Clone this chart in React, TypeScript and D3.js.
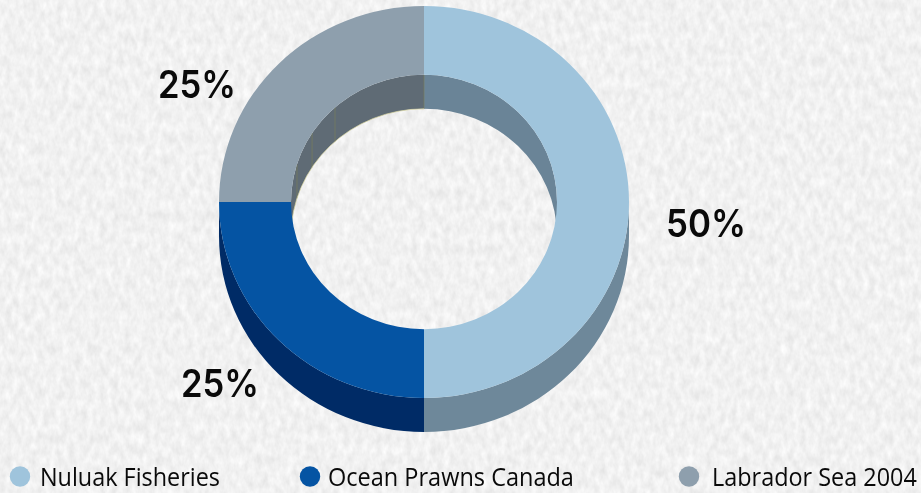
import React, { useLayoutEffect, useRef } from "react";
import * as d3 from "d3";

const categories = ["Nuluak Fisheries", "Ocean Prawns Canada", "Labrador Sea 2004"];
const shares = [50, 25, 25];
const faceColors = ["#9FC4DC", "#0554A3", "#8E9FAD"];
const outerWallColors = ["#6E889A", "#002B66", "#5F6B75"];
const innerWallColors = ["#6A8497", "#002B66", "#5F6B75"];
const shareLabels = ["50%", "25%", "25%"];
const labelAnchors = [
  [706, 237],
  [220, 397],
  [197, 98],
];
const labelWidths = [80, 78, 78];
const legendMarkers = [20, 310, 689];
const legendTextX = [40, 328, 712];
const legendTextWidth = [180, 246, 205];

const WIDTH = 921;
const HEIGHT = 493;
const CX = 424;
const CY = 202;
const R_OUTER = 205;
const R_INNER = 133;
const Y_SQUASH = 196 / 205;
const DEPTH = 34;
const TAU = Math.PI * 2;
const LEGEND_BASELINE = 485.5;

const pie = d3.pie<number>().sort(null).startAngle(0).endAngle(TAU);
const slices = pie(shares);
const faceArc = d3.arc<d3.PieArcDatum<number>>().innerRadius(R_INNER).outerRadius(R_OUTER);

// Point on the tilted ellipse, angle measured clockwise from twelve o'clock.
const onEllipse = (r: number, a: number, dy = 0): [number, number] => [
  CX + r * Math.sin(a),
  CY + dy - r * Y_SQUASH * Math.cos(a),
];

// Band between an elliptical arc on the top face and the same arc dropped by DEPTH.
function wallPath(r: number, a0: number, a1: number): string {
  const ry = r * Y_SQUASH;
  const [x0, y0] = onEllipse(r, a0);
  const [x1, y1] = onEllipse(r, a1);
  const [x2, y2] = onEllipse(r, a1, DEPTH);
  const [x3, y3] = onEllipse(r, a0, DEPTH);
  return (
    `M${x0},${y0}A${r},${ry} 0 0 1 ${x1},${y1}` +
    `L${x2},${y2}A${r},${ry} 0 0 0 ${x3},${y3}Z`
  );
}

// The rim of the hole along the lower edge of the far wall.
function rimPath(a0: number, a1: number): string {
  const [x0, y0] = onEllipse(R_INNER, a0, DEPTH);
  const [x1, y1] = onEllipse(R_INNER, a1, DEPTH);
  return `M${x0},${y0}A${R_INNER},${R_INNER * Y_SQUASH} 0 0 1 ${x1},${y1}`;
}

const clampedSpan = (s: d3.PieArcDatum<number>, lo: number, hi: number) => {
  const a0 = Math.max(s.startAngle, lo);
  const a1 = Math.min(s.endAngle, hi);
  return a1 > a0 ? [a0, a1] : null;
};

// Thin seams on the far inner wall, given as angles on the hole's rim.
const wallSeams = [0, -0.733, -1.0, -1.27];

export default function App() {
  const legendRefs = useRef<(SVGTextElement | null)[]>([]);

  // Condense each legend entry horizontally so it spans its slot.
  useLayoutEffect(() => {
    legendRefs.current.forEach((el, i) => {
      if (!el) return;
      const natural = el.getComputedTextLength();
      const sx = legendTextWidth[i] / natural;
      el.setAttribute("transform", `translate(${legendTextX[i]},${LEGEND_BASELINE}) scale(${sx},1)`);
    });
  }, []);

  return (
    <svg
      width={WIDTH}
      height={HEIGHT}
      viewBox={`0 0 ${WIDTH} ${HEIGHT}`}
      style={{ position: "fixed", left: 0, top: 0, display: "block" }}
    >
      <defs>
        <filter id="paper" x="0" y="0" width="100%" height="100%" colorInterpolationFilters="sRGB">
          <feTurbulence type="fractalNoise" baseFrequency="0.16 0.09" numOctaves={3} seed={7} />
          <feColorMatrix
            type="matrix"
            values="0.12 0 0 0 0.885  0.12 0 0 0 0.885  0.12 0 0 0 0.885  0 0 0 0 1"
          />
        </filter>
      </defs>
      <rect width={WIDTH} height={HEIGHT} filter="url(#paper)" />

      {/* far side of the hole */}
      {slices.map((s, i) => {
        const span = clampedSpan(s, 0, Math.PI / 2) ?? clampedSpan(s, (3 * Math.PI) / 2, TAU);
        return span ? (
          <path key={i} d={wallPath(R_INNER, span[0], span[1])} fill={innerWallColors[i]} />
        ) : null;
      })}
      {wallSeams.map((a) => {
        const [x0, y0] = onEllipse(R_INNER, a);
        const [, y1] = onEllipse(R_INNER, a, DEPTH);
        return <line key={a} x1={x0} x2={x0} y1={y0} y2={y1} stroke="#7E8258" strokeWidth={0.6} />;
      })}
      <path d={rimPath(-Math.PI / 2, 0)} fill="none" stroke="#D9D6A0" strokeWidth={0.7} />

      {/* near outer wall */}
      {slices.map((s, i) => {
        const span = clampedSpan(s, Math.PI / 2, (3 * Math.PI) / 2);
        return span ? (
          <path key={i} d={wallPath(R_OUTER, span[0], span[1])} fill={outerWallColors[i]} />
        ) : null;
      })}

      {/* top face */}
      <g transform={`translate(${CX},${CY}) scale(1,${Y_SQUASH})`}>
        {slices.map((s, i) => (
          <path key={i} d={faceArc(s) ?? undefined} fill={faceColors[i]} />
        ))}
      </g>

      {shareLabels.map((t, i) => (
        <text
          key={i}
          x={labelAnchors[i][0] - labelWidths[i] / 2}
          y={labelAnchors[i][1]}
          fontFamily="Inter"
          fontWeight={600}
          fontSize={38}
          fill="#0A0A0A"
          textLength={labelWidths[i]}
          lengthAdjust="spacingAndGlyphs"
        >
          {t}
        </text>
      ))}

      {categories.map((c, i) => (
        <g key={c}>
          <circle cx={legendMarkers[i]} cy={476.5} r={10.2} fill={faceColors[i]} />
          <text
            ref={(el) => {
              legendRefs.current[i] = el;
            }}
            transform={`translate(${legendTextX[i]},${LEGEND_BASELINE})`}
            fontFamily="Open Sans"
            fontSize={25}
            fill="#0A0A0A"
          >
            {c}
          </text>
        </g>
      ))}
    </svg>
  );
}
